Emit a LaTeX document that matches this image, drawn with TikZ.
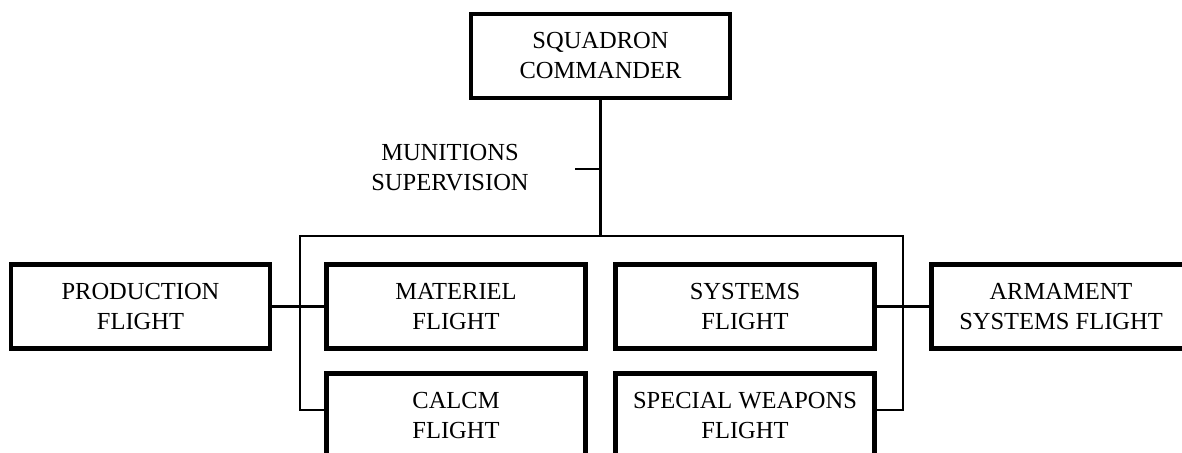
\documentclass[tikz,border=0pt]{standalone}
\usepackage{fontspec}
\setmainfont{Liberation Serif}
\begin{document}
\begin{tikzpicture}[x=1pt,y=-1pt,
  orgbox/.style={draw, line width=4.5pt, minimum width=259pt, minimum height=84pt, inner sep=0pt, align=center, font=\fontsize{24.5}{30}\selectfont},
  conn/.style={line width=2.2pt},
  lbl/.style={align=center, inner sep=0pt, font=\fontsize{24.5}{30}\selectfont}]
\useasboundingbox (0,0) rectangle (1182,452);
\clip (0,0) rectangle (1182,452);
\node[orgbox] (sq) at (600.5,56) {SQUADRON\\COMMANDER};
\node[lbl] (mun) at (450,168) {MUNITIONS\\SUPERVISION};
\node[orgbox] (prod) at (140.5,306.5) {PRODUCTION\\FLIGHT};
\node[orgbox] (mat) at (456,306.5) {MATERIEL\\FLIGHT};
\node[orgbox] (calcm) at (456,415.5) {CALCM\\FLIGHT};
\node[orgbox] (sys) at (745,306.5) {SYSTEMS\\FLIGHT};
\node[orgbox] (spw) at (745,415.5) {SPECIAL WEAPONS\\FLIGHT};
\node[orgbox] (arm) at (1061,306.5) {ARMAMENT\\SYSTEMS FLIGHT};
\coordinate (bl) at (300,236);
\coordinate (br) at (903,236);
\coordinate (tick) at (575,169);
\draw[conn] (sq.south) -- (sq.south |- bl);
\draw[conn] (tick) -- (tick -| sq.south);
\draw[conn] ([yshift=5.5pt]calcm.west) -| (bl) -- (br) |- ([yshift=5.5pt]spw.east);
\draw[conn] (prod.east) -- (mat.west);
\draw[conn] (sys.east) -- (arm.west);
\end{tikzpicture}
\end{document}
